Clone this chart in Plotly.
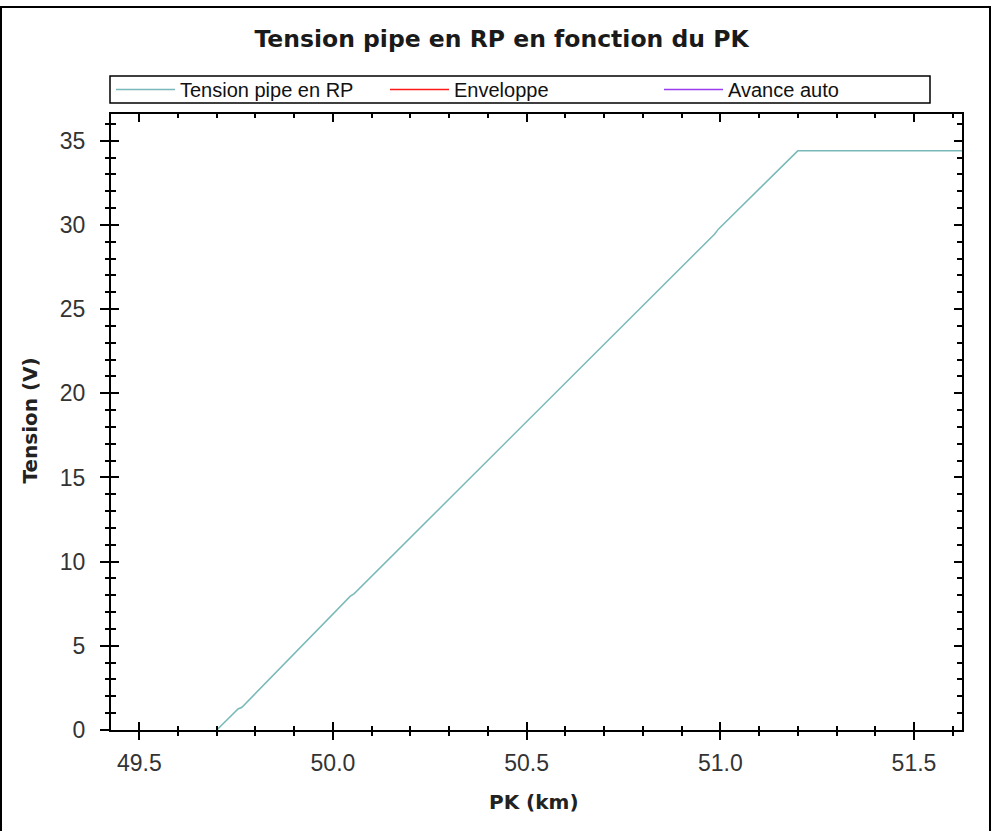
import plotly.graph_objects as go

# Data
pk_km = [49.700, 49.755, 49.765, 50.045, 50.055, 50.985, 50.995, 51.200, 51.625]
tension_v = [0.0, 1.25, 1.35, 7.95, 8.10, 29.45, 29.75, 34.40, 34.40]

series_names = ["Tension pipe en RP", "Enveloppe", "Avance auto"]
series_colors = ["#7ab9b9", "#ff1a1a", "#9b3cf0"]

x_range = [49.427, 51.624]
y_range = [0.0, 36.59]
x_major = 0.5
x_minor = 0.1
y_major = 5
y_minor = 1

title_text = "Tension pipe en RP en fonction du PK"
x_title = "PK (km)"
y_title = "Tension (V)"

W, H = 992, 831
L, R, T, B = 111, 30, 114, 101
pw, ph = W - L - R, H - T - B


def px(xs):  # page x -> paper x
    return (xs - L) / pw


def py(ys):  # page y -> paper y
    return (T + ph - ys) / ph


fig = go.Figure()
fig.add_trace(go.Scatter(x=pk_km, y=tension_v, mode="lines", name=series_names[0],
                         line=dict(color=series_colors[0], width=1.5), cliponaxis=True))
fig.add_trace(go.Scatter(x=[None], y=[None], mode="lines", name=series_names[1],
                         line=dict(color=series_colors[1], width=1.5)))
fig.add_trace(go.Scatter(x=[None], y=[None], mode="lines", name=series_names[2],
                         line=dict(color=series_colors[2], width=1.5)))
# dummy trace to create overlaid axes (used for outward ticks + labels)
fig.add_trace(go.Scatter(x=[None], y=[None], xaxis="x2", yaxis="y2", showlegend=False,
                         hoverinfo="skip", mode="lines"))

tick_font = dict(family="Liberation Sans, Arial, sans-serif", size=23, color="#333333")
title_font = dict(family="DejaVu Sans, sans-serif", size=20, color="#222222")

fig.update_layout(
    width=W, height=H,
    margin=dict(l=L, r=R, t=T, b=B, pad=0),
    paper_bgcolor="white", plot_bgcolor="white",
    title=dict(text="<b>" + title_text + "</b>", x=501.5 / W, xref="container",
               xanchor="center", y=1 - 39 / H, yref="container", yanchor="middle",
               font=dict(family="DejaVu Sans, sans-serif", size=23.5, color="#1a1a1a")),
    showlegend=True,
    legend=dict(orientation="h", x=px(111), y=py(70), xanchor="left", yanchor="top",
                borderwidth=0, bgcolor="rgba(0,0,0,0)",
                font=dict(family="Liberation Sans, Arial, sans-serif", size=20, color="#111111"),
                entrywidth=200, entrywidthmode="pixels", itemwidth=59, tracegroupgap=0),
    xaxis=dict(range=x_range, dtick=x_major, tick0=49.5, ticks="inside", ticklen=8, tickwidth=2,
               tickcolor="black", mirror="ticks", showline=True, linecolor="black", linewidth=2,
               showgrid=False, zeroline=False, showticklabels=False,
               minor=dict(dtick=x_minor, tick0=49.5, ticks="inside", ticklen=4, tickwidth=1.5,
                          tickcolor="black", showgrid=False)),
    yaxis=dict(range=y_range, dtick=y_major, tick0=0, ticks="inside", ticklen=8, tickwidth=2,
               tickcolor="black", mirror="ticks", showline=True, linecolor="black", linewidth=2,
               showgrid=False, zeroline=False, showticklabels=False,
               minor=dict(dtick=y_minor, tick0=0, ticks="inside", ticklen=5, tickwidth=1.5,
                          tickcolor="black", showgrid=False)),
    xaxis2=dict(range=x_range, overlaying="x", side="bottom", anchor="y2", dtick=x_major, tick0=49.5,
                ticks="outside", ticklen=9, tickwidth=2, tickcolor="black", showline=False,
                showgrid=False, zeroline=False, tickformat=".1f", tickfont=tick_font,
                ticklabelstandoff=3,
                minor=dict(dtick=x_minor, tick0=49.5, ticks="outside", ticklen=5, tickwidth=1.5,
                           tickcolor="black", showgrid=False)),
    yaxis2=dict(range=y_range, overlaying="y", side="left", anchor="x2", dtick=y_major, tick0=0,
                ticks="outside", ticklen=10, tickwidth=2, tickcolor="black", showline=False,
                showgrid=False, zeroline=False, tickfont=tick_font, ticklabelstandoff=10,
                minor=dict(dtick=y_minor, tick0=0, ticks="outside", ticklen=5, tickwidth=1.5,
                           tickcolor="black", showgrid=False)),
    annotations=[
        dict(text="<b>" + x_title + "</b>", xref="paper", yref="paper", x=px(534), y=py(802),
             xanchor="center", yanchor="middle", showarrow=False, font=title_font),
        dict(text="<b>" + y_title + "</b>", xref="paper", yref="paper", x=px(29.5), y=py(421),
             xanchor="center", yanchor="middle", showarrow=False, textangle=-90, font=title_font),
    ],
    shapes=[
        dict(type="rect", xref="paper", yref="paper",
             x0=px(1), x1=px(990), y0=py(860), y1=py(7),
             line=dict(color="black", width=2), layer="below"),
        dict(type="rect", xref="paper", yref="paper",
             x0=px(110), x1=px(930), y0=py(103), y1=py(76),
             line=dict(color="black", width=1.5), layer="below"),
    ],
)

fig.write_html("out.html", config={"displayModeBar": False},
               post_script="document.body.style.margin='0px';document.body.style.overflow='hidden';")
